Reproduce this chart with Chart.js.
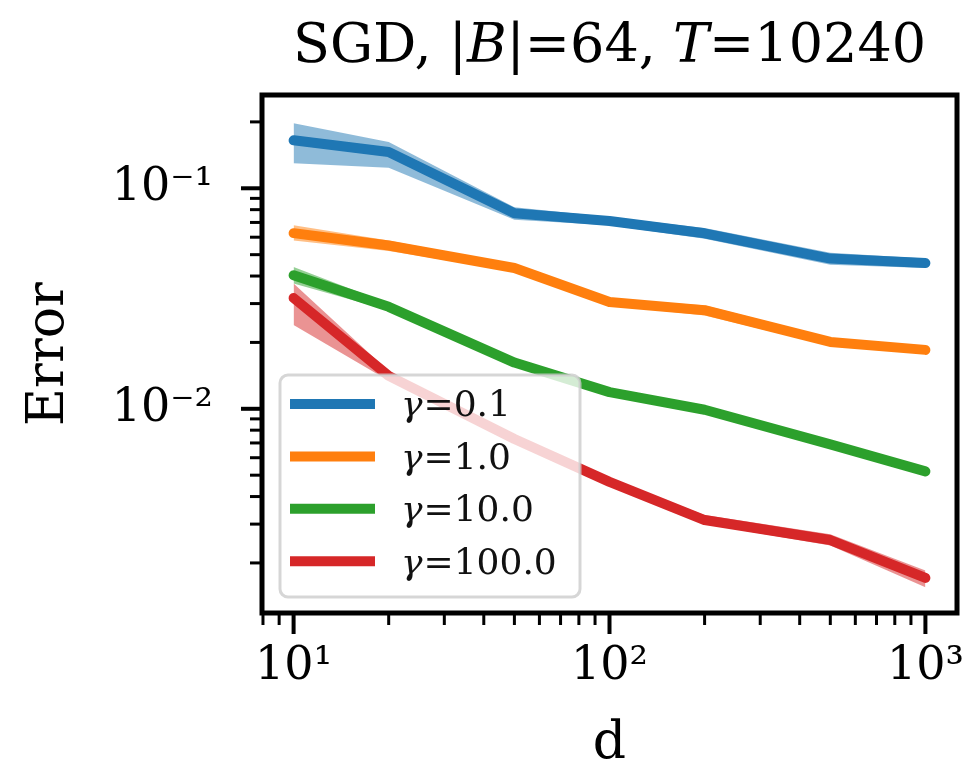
<!DOCTYPE html>
<html>
<head>
<meta charset="utf-8">
<script src="https://cdn.jsdelivr.net/npm/chart.js@4.4.0/dist/chart.umd.min.js"></script>
<style>
html, body { margin: 0; padding: 0; background: #fff; }
#wrap { width: 966px; height: 778px; }
</style>
</head>
<body>
<div id="wrap"><canvas id="errChart" width="966" height="778"></canvas></div>
<script>
// ── Datos ────────────────────────────────────────────────────────
const dims = [10, 20, 50, 100, 200, 500, 1000];
const seriesLabels = ['γ=0.1', 'γ=1.0', 'γ=10.0', 'γ=100.0'];
const seriesColors = ['#1f77b4', '#ff7f0e', '#2ca02c', '#d62728'];

const errG01   = [0.165, 0.146, 0.077, 0.071, 0.0625, 0.048, 0.0458];
const errG01Hi = [0.197, 0.162, 0.082, 0.074, 0.066, 0.051, 0.048];
const errG01Lo = [0.130, 0.124, 0.072, 0.068, 0.059, 0.045, 0.0435];

const errG1    = [0.0626, 0.055, 0.0435, 0.0305, 0.028, 0.0201, 0.0185];
const errG1Hi  = [0.068, 0.058, 0.045, 0.0315, 0.0295, 0.021, 0.019];
const errG1Lo  = [0.058, 0.052, 0.042, 0.0295, 0.0265, 0.0193, 0.018];

const errG10   = [0.0403, 0.029, 0.0162, 0.0119, 0.0099, 0.0069, 0.0052];
const errG10Hi = [0.044, 0.030, 0.0167, 0.0122, 0.0102, 0.0071, 0.0053];
const errG10Lo = [0.037, 0.028, 0.0157, 0.0116, 0.0096, 0.0067, 0.0051];

const errG100   = [0.0318, 0.0141, 0.0073, 0.00466, 0.00313, 0.00254, 0.00171];
const errG100Hi = [0.037, 0.0148, 0.0076, 0.0048, 0.0033, 0.0027, 0.00185];
const errG100Lo = [0.024, 0.0134, 0.0070, 0.0045, 0.0030, 0.0024, 0.00155];

const xMajor = [10, 100, 1000];
const xMajorLabels = ['10¹', '10²', '10³'];
const yMajor = [0.01, 0.1];
const yMajorLabels = ['10⁻²', '10⁻¹'];

const means = [errG01, errG1, errG10, errG100];
const highs = [errG01Hi, errG1Hi, errG10Hi, errG100Hi];
const lows  = [errG01Lo, errG1Lo, errG10Lo, errG100Lo];

const SERIF = '"DejaVu Serif", serif';

function toPoints(vals) {
    return vals.map((v, i) => ({ x: dims[i], y: v }));
}

function withAlpha(hex, a) {
    const n = parseInt(hex.slice(1), 16);
    return `rgba(${(n >> 16) & 255}, ${(n >> 8) & 255}, ${n & 255}, ${a})`;
}

function minorTicks(min, max) {
    const out = [];
    for (let e = Math.floor(Math.log10(min)); e <= Math.ceil(Math.log10(max)); e++) {
        for (let m = 2; m <= 9; m++) {
            const v = m * Math.pow(10, e);
            if (v >= min && v <= max) out.push(v);
        }
    }
    return out;
}

// ── Datasets: banda (hi/lo) + línea media por serie ──────────────
const datasets = [];
means.forEach((mean, s) => {
    const base = 3 - s;
    const hiIdx = datasets.length;
    datasets.push({
        data: toPoints(highs[s]),
        borderWidth: 0, pointRadius: 0, fill: false,
        order: 2 * base + 3
    });
    datasets.push({
        data: toPoints(lows[s]),
        borderWidth: 0, pointRadius: 0,
        backgroundColor: withAlpha(seriesColors[s], 0.5),
        fill: { target: hiIdx },
        order: 2 * base + 2
    });
    datasets.push({
        label: seriesLabels[s],
        data: toPoints(mean),
        borderColor: seriesColors[s],
        borderWidth: 10,
        borderCapStyle: 'round',
        borderJoinStyle: 'round',
        pointRadius: 0,
        tension: 0,
        fill: false,
        order: 2 * base + 1
    });
});

// ── Plugins ──────────────────────────────────────────────────────
const titlePlugin = {
    id: 'mixedTitle',
    afterDraw(chart) {
        const ctx = chart.ctx;
        const parts = [
            ['SGD, |', ''], ['B', 'italic '], ['|=64, ', ''], ['T', 'italic '], ['=10240', '']
        ];
        const size = 54;
        ctx.save();
        ctx.fillStyle = '#000';
        ctx.textBaseline = 'alphabetic';
        let total = 0;
        parts.forEach(p => { ctx.font = `${p[1]}${size}px ${SERIF}`; total += ctx.measureText(p[0]).width; });
        const area = chart.chartArea;
        let x = (area.left + area.right) / 2 - total / 2;
        parts.forEach(p => {
            ctx.font = `${p[1]}${size}px ${SERIF}`;
            ctx.fillText(p[0], x, 62);
            x += ctx.measureText(p[0]).width;
        });
        ctx.restore();
    }
};

const framePlugin = {
    id: 'frameTicks',
    afterDatasetsDraw(chart) {
        const ctx = chart.ctx;
        const a = chart.chartArea;
        const xs = chart.scales.x, ys = chart.scales.y;
        ctx.save();
        ctx.strokeStyle = '#000';
        ctx.lineCap = 'butt';
        const drawX = (v, len, w) => {
            const px = xs.getPixelForValue(v);
            ctx.lineWidth = w;
            ctx.beginPath(); ctx.moveTo(px, a.bottom); ctx.lineTo(px, a.bottom + len); ctx.stroke();
        };
        const drawY = (v, len, w) => {
            const py = ys.getPixelForValue(v);
            ctx.lineWidth = w;
            ctx.beginPath(); ctx.moveTo(a.left, py); ctx.lineTo(a.left - len, py); ctx.stroke();
        };
        minorTicks(xs.min, xs.max).forEach(v => drawX(v, 12, 3));
        xMajor.forEach(v => drawX(v, 21, 4));
        minorTicks(ys.min, ys.max).forEach(v => drawY(v, 12, 3));
        yMajor.forEach(v => drawY(v, 21, 4));
        ctx.lineWidth = 5;
        ctx.strokeRect(a.left, a.top, a.right - a.left, a.bottom - a.top);
        ctx.restore();
    }
};

const legendPlugin = {
    id: 'boxLegend',
    afterDraw(chart) {
        const ctx = chart.ctx;
        const items = chart.data.datasets.filter(d => d.label);
        const box = { x: 280, y: 375, w: 300, h: 222, r: 8 };
        ctx.save();
        ctx.beginPath();
        ctx.roundRect(box.x, box.y, box.w, box.h, box.r);
        ctx.fillStyle = 'rgba(255, 255, 255, 0.8)';
        ctx.fill();
        ctx.lineWidth = 3;
        ctx.strokeStyle = 'rgba(204, 204, 204, 0.8)';
        ctx.stroke();
        items.forEach((d, i) => {
            const y = 404 + i * 52.4;
            ctx.strokeStyle = d.borderColor;
            ctx.lineWidth = 10;
            ctx.lineCap = 'butt';
            ctx.beginPath(); ctx.moveTo(290, y); ctx.lineTo(375, y); ctx.stroke();
            ctx.fillStyle = '#111';
            ctx.textBaseline = 'middle';
            ctx.font = `italic 36px ${SERIF}`;
            const g = d.label.slice(0, 1), rest = d.label.slice(1);
            ctx.fillText(g, 401, y + 3);
            const gw = ctx.measureText(g).width;
            ctx.font = `36px ${SERIF}`;
            ctx.fillText(rest, 401 + gw + 1, y + 3);
        });
        ctx.restore();
    }
};

// ── Gráfico ──────────────────────────────────────────────────────
new Chart(document.getElementById('errChart').getContext('2d'), {
    type: 'line',
    data: { datasets: datasets },
    options: {
        responsive: false,
        animation: false,
        layout: { padding: { left: 0, top: 95, right: 9, bottom: 0 } },
        scales: {
            x: {
                type: 'logarithmic',
                min: Math.pow(10, 0.9),
                max: Math.pow(10, 3.1),
                afterFit: s => { s.height = 165; s.paddingLeft = 0; s.paddingRight = 0; },
                afterBuildTicks: s => { s.ticks = xMajor.map(v => ({ value: v })); },
                grid: { display: false, drawTicks: false, tickLength: 0 },
                border: { display: false },
                ticks: {
                    autoSkip: false, maxRotation: 0, padding: 26,
                    color: '#000',
                    font: { family: SERIF, size: 46 },
                    callback: v => xMajorLabels[xMajor.indexOf(v)] || ''
                },
                title: {
                    display: true, text: 'd', color: '#000',
                    font: { family: SERIF, size: 52 },
                    padding: { top: 0, bottom: 2 }
                }
            },
            y: {
                type: 'logarithmic',
                min: Math.pow(10, -2.926),
                max: Math.pow(10, -0.577),
                afterFit: s => { s.width = 262; s.paddingTop = 0; s.paddingBottom = 0; },
                afterBuildTicks: s => { s.ticks = yMajor.map(v => ({ value: v })); },
                grid: { display: false, drawTicks: false, tickLength: 0 },
                border: { display: false },
                ticks: {
                    autoSkip: false, padding: 49,
                    color: '#000',
                    font: { family: SERIF, size: 46 },
                    callback: v => yMajorLabels[yMajor.indexOf(v)] || ''
                },
                title: {
                    display: true, text: 'Error', color: '#000',
                    font: { family: SERIF, size: 52 },
                    padding: { top: 18, bottom: 0 }
                }
            }
        },
        plugins: {
            legend: { display: false },
            tooltip: { enabled: false },
            title: { display: false }
        }
    },
    plugins: [framePlugin, titlePlugin, legendPlugin]
});
</script>
</body>
</html>
